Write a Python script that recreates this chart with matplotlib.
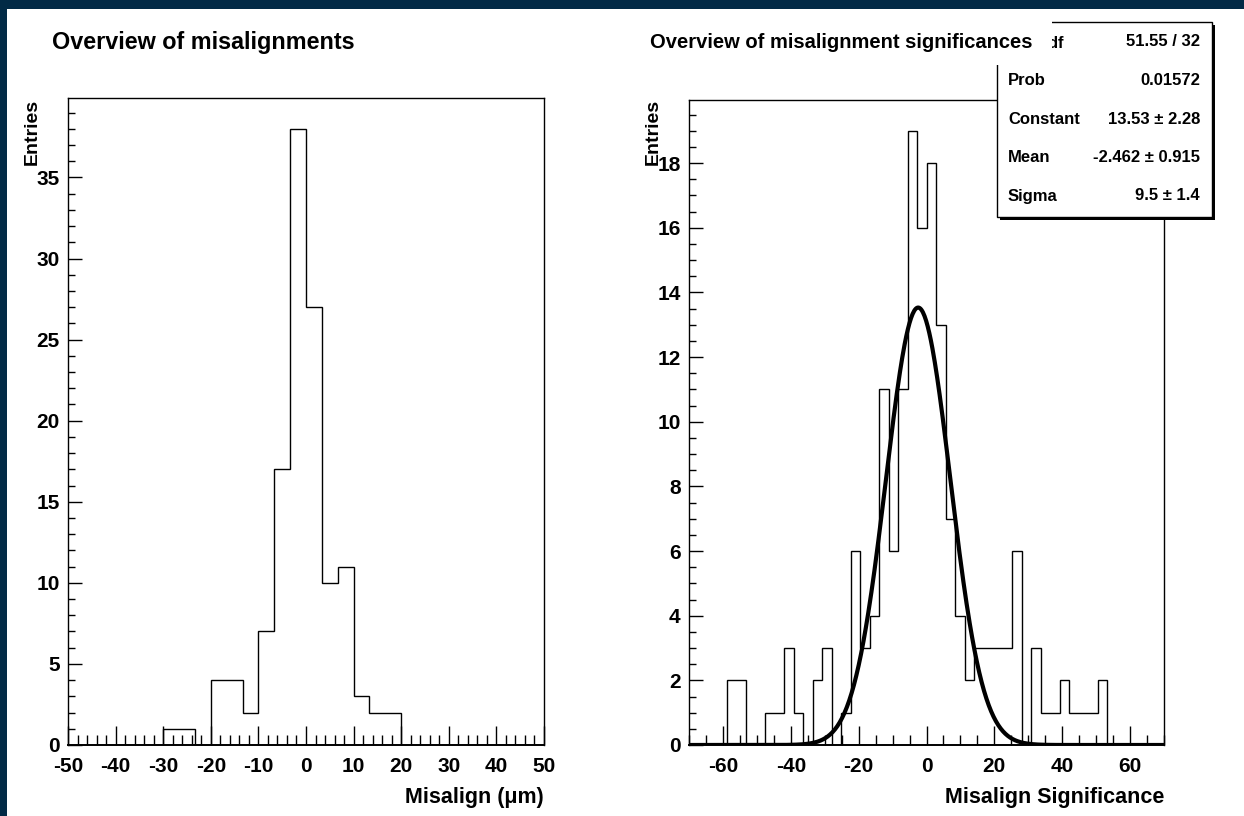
import numpy as np
import matplotlib
matplotlib.use("Agg")
import matplotlib.pyplot as plt
from matplotlib.patches import Rectangle
from matplotlib.ticker import MultipleLocator

plt.rcParams["font.family"] = ["Liberation Sans", "DejaVu Sans"]
plt.rcParams["font.weight"] = "bold"
plt.rcParams["axes.unicode_minus"] = False

W, H = 1244, 816

# misalignments: 30 bins from -50 to 50 um
mis_edges = np.linspace(-50, 50, 31)
mis_counts = [0, 0, 0, 0, 0, 0, 1, 1, 0, 4,
              4, 2, 7, 17, 38, 27, 10, 11, 3, 2,
              2, 0, 0, 0, 0, 0, 0, 0, 0, 0]

# significances: 50 bins from -70 to 70
sig_edges = np.linspace(-70, 70, 51)
sig_counts = [0, 0, 0, 0, 2, 2, 0, 0, 1, 1,
              3, 1, 0, 2, 3, 0, 1, 6, 3, 4,
              11, 6, 11, 19, 16, 18, 13, 7, 4, 2,
              3, 3, 3, 3, 6, 0, 3, 1, 1, 2,
              1, 1, 1, 2, 0, 0, 0, 0, 0, 0]

# gaussian fit results
fit_chi2, fit_ndf = 51.55, 32
fit_prob = 0.01572
fit_const, fit_const_err = 13.53, 2.28
fit_mean, fit_mean_err = -2.462, 0.915
fit_sigma, fit_sigma_err = 9.5, 1.4


def fx(px):
    return px / W


def fy(py):
    return 1 - py / H


def style_axes(ax, xmaj, xmin, ymaj, ymin):
    ax.xaxis.set_major_locator(MultipleLocator(xmaj))
    ax.xaxis.set_minor_locator(MultipleLocator(xmin))
    ax.yaxis.set_major_locator(MultipleLocator(ymaj))
    ax.yaxis.set_minor_locator(MultipleLocator(ymin))
    ax.tick_params(axis="x", which="major", direction="in", length=14, width=1, pad=9, labelsize=15)
    ax.tick_params(axis="x", which="minor", direction="in", length=7, width=1)
    ax.tick_params(axis="y", which="major", direction="in", length=10.3, width=1, pad=6, labelsize=15)
    ax.tick_params(axis="y", which="minor", direction="in", length=5.1, width=1)
    for s in ax.spines.values():
        s.set_linewidth(1.0)
    ax.spines["bottom"].set_linewidth(1.4)
    for lab in ax.get_xticklabels() + ax.get_yticklabels():
        lab.set_fontweight("bold")


fig = plt.figure(figsize=(W / 100, H / 100), dpi=100, facecolor="#022a46")
fig.patches.append(Rectangle((fx(7), 0), 1 - fx(7), fy(9), transform=fig.transFigure,
                             facecolor="white", edgecolor="none", zorder=-10))

# left: misalignments
ax1 = fig.add_axes([fx(68), fy(745), fx(544) - fx(68), fy(98) - fy(745)])
ax1.stairs(mis_counts, mis_edges, color="black", linewidth=1.0)
ax1.set_xlim(-50, 50)
ax1.set_ylim(0, max(mis_counts) * 1.05)
style_axes(ax1, 10, 2, 5, 1)

# right: significances with gaussian fit
ax2 = fig.add_axes([fx(689), fy(745), fx(1164) - fx(689), fy(100) - fy(745)])
ax2.stairs(sig_counts, sig_edges, color="black", linewidth=1.0)
xs = np.linspace(-70, 70, 600)
ax2.plot(xs, fit_const * np.exp(-0.5 * ((xs - fit_mean) / fit_sigma) ** 2),
         color="black", linewidth=3.0, solid_capstyle="butt")
ax2.set_xlim(-70, 70)
ax2.set_ylim(0, max(sig_counts) * 1.05)
style_axes(ax2, 20, 5, 2, 0.5)

# axis titles
fig.text(fx(32), fy(99), "Entries", rotation=90, ha="center", va="top", fontsize=14, fontweight="bold")
fig.text(fx(653), fy(99), "Entries", rotation=90, ha="center", va="top", fontsize=14, fontweight="bold")
fig.text(fx(544), fy(797), "Misalign (\u03bcm)", ha="right", va="center", fontsize=15.5, fontweight="bold")
fig.text(fx(1164), fy(797), "Misalign Significance", ha="right", va="center", fontsize=15.5, fontweight="bold")

# stats box with shadow
bx0, bx1, by0, by1 = 997, 1212, 22, 217
fig.patches.append(Rectangle((fx(bx0 + 3), fy(by1 + 3)), fx(bx1 - bx0), fy(by0) - fy(by1),
                             transform=fig.transFigure, facecolor="black", edgecolor="none", zorder=5))
fig.patches.append(Rectangle((fx(bx0), fy(by1)), fx(bx1 - bx0), fy(by0) - fy(by1),
                             transform=fig.transFigure, facecolor="white", edgecolor="black",
                             linewidth=1.0, zorder=6))
rows = [
    ("\u03c7$^{2}$ / ndf", f"{fit_chi2:.2f} / {fit_ndf}"),
    ("Prob", f"{fit_prob:.5f}"),
    ("Constant", f"{fit_const:.2f} \u00b1 {fit_const_err:.2f}"),
    ("Mean", f"{fit_mean:.3f} \u00b1 {fit_mean_err:.3f}"),
    ("Sigma", f"{fit_sigma:.1f} \u00b1 {fit_sigma_err:.1f}"),
]
for i, (name, val) in enumerate(rows):
    y = 42 + 38.5 * i
    x_name = 1005.5 if i == 0 else 1008
    fig.text(fx(x_name), fy(y), name, ha="left", va="center", fontsize=12, fontweight="bold", zorder=7)
    fig.text(fx(1200), fy(y), val, ha="right", va="center", fontsize=12, fontweight="bold", zorder=7)

# title pad of the right plot sits over the stats box corner
fig.patches.append(Rectangle((fx(640), fy(65)), fx(1052 - 640), fy(20) - fy(65),
                             transform=fig.transFigure, facecolor="white", edgecolor="none", zorder=8))
fig.text(fx(52), fy(42), "Overview of misalignments", ha="left", va="center",
         fontsize=16.8, fontweight="bold", zorder=9)
fig.text(fx(650), fy(42), "Overview of misalignment significances", ha="left", va="center",
         fontsize=14.5, fontweight="bold", zorder=9)

fig.savefig("out.png", dpi=100, facecolor=fig.get_facecolor())
